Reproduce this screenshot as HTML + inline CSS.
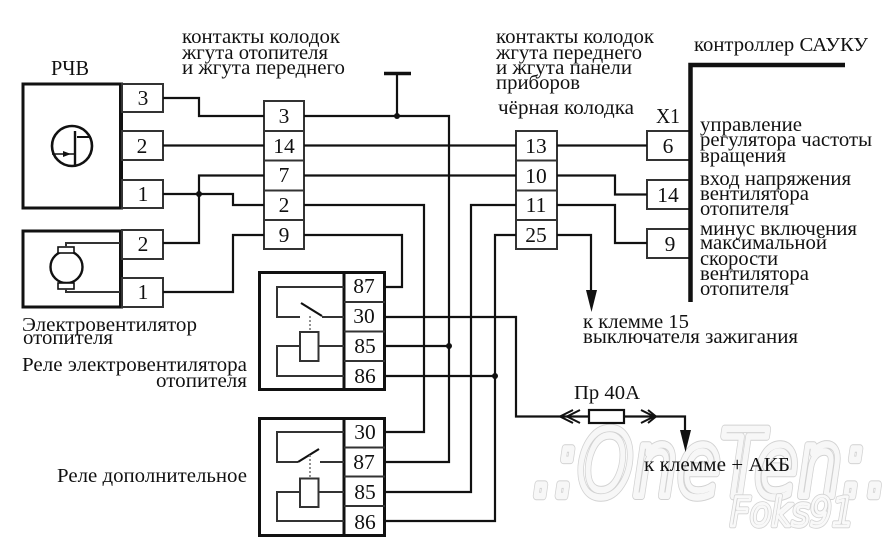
<!DOCTYPE html>
<html><head><meta charset="utf-8">
<style>
html,body{margin:0;padding:0;background:#fff}
svg{display:block}
text{font-family:"Liberation Serif","Noto Serif CJK SC",serif;fill:#111;font-size:20px}
.p{font-size:21.5px;text-anchor:middle}
.w{fill:none;stroke:#111;stroke-width:2.2}
.b{fill:none;stroke:#111;stroke-width:3}
.t{fill:none;stroke:#333;stroke-width:2}
.wm{font-family:"DejaVu Sans",sans-serif;font-style:oblique;font-weight:normal;stroke-linejoin:round;stroke-linecap:round}
</style></head><body>
<svg width="896" height="547" viewBox="0 0 896 547" xmlns="http://www.w3.org/2000/svg">
<rect width="896" height="547" fill="#fff"/>
<!-- watermark -->
<text class="wm" x="532" y="496" textLength="356" lengthAdjust="spacingAndGlyphs" style="font-size:92px;fill:none;stroke:#d2d2d2;stroke-width:8.5">.:OneTen:.</text>
<text class="wm" x="532" y="496" textLength="356" lengthAdjust="spacingAndGlyphs" style="font-size:92px;fill:none;stroke:#f7f7f7;stroke-width:6.5">.:OneTen:.</text>
<text class="wm" x="730" y="526" textLength="124" lengthAdjust="spacingAndGlyphs" style="font-size:40px;fill:none;stroke:#d2d2d2;stroke-width:4.5">Foks91</text>
<text class="wm" x="730" y="526" textLength="124" lengthAdjust="spacingAndGlyphs" style="font-size:40px;fill:none;stroke:#f9f9f9;stroke-width:2.8">Foks91</text>
<!-- RCHV -->
<rect class="b" x="23" y="84" width="98" height="124"/>
<rect class="b" x="23" y="231" width="98" height="76"/>
<line x1="121" y1="82.5" x2="121" y2="209.5" stroke="#111" stroke-width="4"/>
<line x1="121" y1="229.5" x2="121" y2="308.5" stroke="#111" stroke-width="4"/>
<rect class="t" x="122" y="84" width="41" height="28"/>
<rect class="t" x="122" y="131" width="41" height="29"/>
<rect class="t" x="122" y="180" width="41" height="28"/>
<rect class="t" x="122" y="230" width="41" height="29"/>
<rect class="t" x="122" y="278" width="41" height="29"/>
<!-- transistor icon -->
<circle cx="72" cy="146" r="20" fill="none" stroke="#111" stroke-width="2.6"/>
<line x1="75" y1="131" x2="75" y2="165" stroke="#111" stroke-width="2.4"/>
<path d="M77 137H91" stroke="#111" stroke-width="2" fill="none"/>
<path d="M52 154H75" stroke="#111" stroke-width="1.6" fill="none"/>
<path d="M63 151L71 154L63 157Z" fill="#111"/>
<!-- motor -->
<circle cx="66.500" cy="267" r="16" fill="#fff" stroke="#111" stroke-width="2.4"/>
<rect x="58" y="247" width="16" height="6" fill="#fff" stroke="#111" stroke-width="1.6"/>
<rect x="58" y="283" width="16" height="6" fill="#fff" stroke="#111" stroke-width="1.6"/>
<path class="t" d="M66 247V243H120M66 289V292H120"/>
<!-- left connector -->
<rect class="t" x="264" y="101" width="40" height="148"/>
<path class="t" d="M264 131H304M264 160.500H304M264 190.500H304M264 220H304"/>
<!-- right connector -->
<rect class="t" x="516" y="131" width="41" height="118"/>
<path class="t" d="M516 160.500H557M516 190.500H557M516 220H557"/>
<!-- X1 -->
<path class="t" d="M689 131H647V160H689M689 180H647V209H689M689 229H647V258H689"/>
<path d="M690.500 302V65H845" fill="none" stroke="#111" stroke-width="4.500"/>
<!-- relay 1 -->
<rect class="b" x="259.500" y="272.500" width="125" height="117"/>
<line x1="344" y1="272" x2="344" y2="390" stroke="#111" stroke-width="3"/>
<path class="t" d="M344 302H385M344 331.500H385M344 361H385"/>
<path class="t" d="M344 287H277V317H300M322 317H344"/>
<path d="M301 303L322 316" stroke="#111" stroke-width="2.2" fill="none"/>
<path d="M310 316V332" stroke="#777" stroke-width="1.6" stroke-dasharray="2 2" fill="none"/>
<rect class="t" x="300" y="332" width="18.500" height="29"/>
<path class="t" d="M344 346H318.500M300 346H277V376H344"/>
<!-- relay 2 -->
<rect class="b" x="259.500" y="418.500" width="125" height="117"/>
<line x1="344" y1="418" x2="344" y2="536" stroke="#111" stroke-width="3"/>
<path class="t" d="M344 447.500H385M344 476.500H385M344 506H385"/>
<path class="t" d="M344 432H277V462H298M320 462H344"/>
<path d="M298 462L319 449" stroke="#111" stroke-width="2.2" fill="none"/>
<path d="M310 455V478" stroke="#777" stroke-width="1.6" stroke-dasharray="2 2" fill="none"/>
<rect class="t" x="300" y="478.500" width="18.500" height="28.500"/>
<path class="t" d="M344 492H318.500M300 492H277V521H344"/>
<!-- wires -->
<path class="w" d="M163 98H199V116H264"/>
<path class="w" d="M163 145.500H264"/>
<path class="w" d="M163 194H233V205H264"/>
<path class="w" d="M264 175.500H199V243H163"/>
<path class="w" d="M264 235H233V292H163"/>
<path class="w" d="M304 116H449V462H385"/>
<path class="w" d="M304 145.500H516"/>
<path class="w" d="M304 175.500H516"/>
<path class="w" d="M304 205H424V432H385"/>
<path class="w" d="M304 235H402V287H385"/>
<path class="w" d="M516 205H471V492H385"/>
<path class="w" d="M516 235H495V521H385"/>
<path class="w" d="M385 346H449"/>
<path class="w" d="M385 376H495"/>
<path class="w" d="M385 317H516V416.500H589"/>
<path class="w" d="M624 416.500H685V432"/>
<path class="w" d="M397 73V116"/>
<path d="M384 73.500H411" stroke="#111" stroke-width="3.500" fill="none"/>
<path class="w" d="M557 145.500H647"/>
<path class="w" d="M557 175.500H615V194.500H647"/>
<path class="w" d="M557 205H615V243H647"/>
<path class="w" d="M557 235H591V292"/>
<circle cx="199" cy="194" r="3" fill="#111"/>
<circle cx="397" cy="116" r="3" fill="#111"/>
<circle cx="449" cy="346" r="3" fill="#111"/>
<circle cx="495" cy="376" r="3" fill="#111"/>
<path d="M586 290H597L591.500 312Z" fill="#111"/>
<path d="M680 430H691L685.500 452Z" fill="#111"/>
<!-- fuse -->
<rect x="589" y="410" width="35" height="13" fill="#fff" stroke="#111" stroke-width="2.2"/>
<path d="M573 410L560 416.500L573 423M580 410L567 416.500L580 423M641 410L654 416.500L641 423M648 410L656 416.500L648 423" fill="none" stroke="#111" stroke-width="2"/>
<!-- pin labels -->
<text class="p" x="143" y="105">3</text><text class="p" x="142" y="153">2</text><text class="p" x="143" y="201">1</text>
<text class="p" x="143" y="251">2</text><text class="p" x="143" y="299">1</text>
<text class="p" x="284" y="123">3</text><text class="p" x="284" y="153">14</text><text class="p" x="284" y="182">7</text><text class="p" x="284" y="212">2</text><text class="p" x="284" y="242">9</text>
<text class="p" x="364" y="293">87</text><text class="p" x="364" y="323">30</text><text class="p" x="365" y="353">85</text><text class="p" x="365" y="383">86</text>
<text class="p" x="365" y="439">30</text><text class="p" x="364" y="469">87</text><text class="p" x="365" y="499">85</text><text class="p" x="365" y="529">86</text>
<text class="p" x="536" y="153">13</text><text class="p" x="536" y="183">10</text><text class="p" x="536" y="212">11</text><text class="p" x="536" y="242">25</text>
<text class="p" x="668" y="153">6</text><text class="p" x="668" y="202">14</text><text class="p" x="670" y="251">9</text>
<!-- labels -->
<text x="51" y="75" textLength="38" lengthAdjust="spacingAndGlyphs" style="font-size:21px">РЧВ</text>
<text x="182" y="43" textLength="158" lengthAdjust="spacingAndGlyphs">контакты колодок</text>
<text x="182" y="59" textLength="146" lengthAdjust="spacingAndGlyphs">жгута отопителя</text>
<text x="182" y="74" textLength="163" lengthAdjust="spacingAndGlyphs">и жгута переднего</text>
<text x="496" y="43" textLength="158" lengthAdjust="spacingAndGlyphs">контакты колодок</text>
<text x="496" y="59" textLength="146" lengthAdjust="spacingAndGlyphs">жгута переднего</text>
<text x="496" y="74" textLength="136" lengthAdjust="spacingAndGlyphs">и жгута панели</text>
<text x="496" y="89" textLength="84" lengthAdjust="spacingAndGlyphs">приборов</text>
<text x="498" y="114" textLength="136" lengthAdjust="spacingAndGlyphs">чёрная колодка</text>
<text x="694" y="51" textLength="174" lengthAdjust="spacingAndGlyphs">контроллер САУКУ</text>
<text x="656" y="123" textLength="24" lengthAdjust="spacingAndGlyphs" style="font-size:21px">X1</text>
<text x="700" y="131" textLength="102" lengthAdjust="spacingAndGlyphs">управление</text>
<text x="700" y="146" textLength="172" lengthAdjust="spacingAndGlyphs">регулятора частоты</text>
<text x="700" y="162" textLength="86" lengthAdjust="spacingAndGlyphs">вращения</text>
<text x="700" y="185" textLength="151" lengthAdjust="spacingAndGlyphs">вход напряжения</text>
<text x="700" y="200" textLength="109" lengthAdjust="spacingAndGlyphs">вентилятора</text>
<text x="700" y="215" textLength="89" lengthAdjust="spacingAndGlyphs">отопителя</text>
<text x="700" y="235" textLength="157" lengthAdjust="spacingAndGlyphs">минус включения</text>
<text x="700" y="249" textLength="127" lengthAdjust="spacingAndGlyphs">максимальной</text>
<text x="700" y="265" textLength="78" lengthAdjust="spacingAndGlyphs">скорости</text>
<text x="700" y="280" textLength="109" lengthAdjust="spacingAndGlyphs">вентилятора</text>
<text x="700" y="295" textLength="89" lengthAdjust="spacingAndGlyphs">отопителя</text>
<text x="583" y="328" textLength="106" lengthAdjust="spacingAndGlyphs">к клемме 15</text>
<text x="583" y="343" textLength="215" lengthAdjust="spacingAndGlyphs">выключателя зажигания</text>
<text x="574" y="399" textLength="66" lengthAdjust="spacingAndGlyphs">Пр 40А</text>
<text x="644" y="471" textLength="146" lengthAdjust="spacingAndGlyphs">к клемме + АКБ</text>
<text x="22" y="331" textLength="175" lengthAdjust="spacingAndGlyphs">Электровентилятор</text>
<text x="23" y="344" textLength="90" lengthAdjust="spacingAndGlyphs">отопителя</text>
<text x="22" y="371" textLength="225" lengthAdjust="spacingAndGlyphs">Реле электровентилятора</text>
<text x="156" y="387" textLength="91" lengthAdjust="spacingAndGlyphs">отопителя</text>
<text x="57" y="482" textLength="190" lengthAdjust="spacingAndGlyphs">Реле дополнительное</text>
</svg>
</body></html>
